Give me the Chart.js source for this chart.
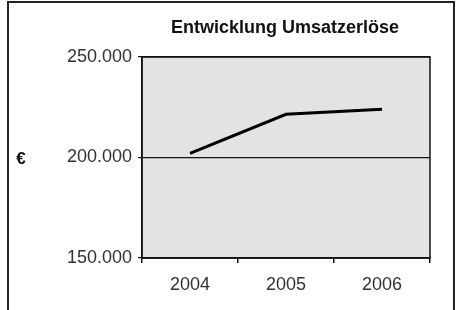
<!DOCTYPE html>
<html>
<head>
<meta charset="utf-8">
<script src="https://cdn.jsdelivr.net/npm/chart.js@4"></script>
<style>
  html, body { margin: 0; padding: 0; background: #fff; }
  #wrap { position: relative; width: 457px; height: 310px; }
  #frame {
    position: absolute; left: 7px; top: 1px; width: 448px; height: 330px;
    border: 2px solid #222; box-sizing: border-box;
  }
  canvas { position: absolute; left: 0; top: 0; }
</style>
</head>
<body>
<div id="wrap">
  <div id="frame"></div>
  <canvas id="chart" width="457" height="310"></canvas>
</div>
<script>
// ===== Daten =====
const years = ["2004", "2005", "2006"];
const umsatz = [202000, 221500, 224000];
const yTicks = [150000, 200000, 250000];

const chartTitle = "Entwicklung Umsatzerlöse";
const unitLabel = "€";

const FONT = "'Liberation Sans Narrow', 'Arial Narrow', 'Liberation Sans', sans-serif";

// Hintergrund + Rahmen der Zeichenfläche, Titel und Einheit
const plotDecor = {
  id: "plotDecor",
  beforeDraw(chart) {
    const { ctx, chartArea: a } = chart;
    ctx.save();
    ctx.fillStyle = "#e3e3e3";
    ctx.fillRect(a.left, a.top, a.right - a.left, a.bottom - a.top);
    ctx.restore();
  },
  afterDraw(chart) {
    const { ctx, chartArea: a } = chart;
    ctx.save();
    ctx.strokeStyle = "#111";
    ctx.lineWidth = 1.5;
    ctx.strokeRect(a.left, a.top, a.right - a.left, a.bottom - a.top);

    ctx.fillStyle = "#111";
    ctx.textAlign = "center";
    ctx.textBaseline = "alphabetic";
    ctx.font = "bold 18px " + FONT;
    ctx.fillText(chartTitle, (a.left + a.right) / 2 - 1, 33);

    ctx.font = "bold 17px " + FONT;
    ctx.fillText(unitLabel, 21, 164);
    ctx.restore();
  }
};

new Chart(document.getElementById("chart").getContext("2d"), {
  type: "line",
  data: {
    labels: years,
    datasets: [{
      data: umsatz,
      borderColor: "#000",
      borderWidth: 3,
      pointRadius: 0,
      tension: 0
    }]
  },
  options: {
    responsive: false,
    animation: false,
    layout: { padding: { left: 0, right: 27, top: 57, bottom: 0 } },
    plugins: {
      legend: { display: false },
      tooltip: { enabled: false }
    },
    scales: {
      x: {
        offset: true,
        grid: {
          offset: true,
          drawOnChartArea: false,
          drawTicks: true,
          tickLength: 5,
          color: "#111",
          lineWidth: 1.5
        },
        border: { color: "#111", width: 1.5 },
        ticks: {
          color: "#333",
          padding: 11,
          font: { family: FONT, size: 18 }
        },
        afterFit(s) { s.height = 52; }
      },
      y: {
        min: 150000,
        max: 250000,
        afterBuildTicks(s) { s.ticks = yTicks.map(v => ({ value: v })); },
        grid: {
          color: "#111",
          lineWidth: 1.2,
          tickLength: 4
        },
        border: { color: "#111", width: 1.5 },
        ticks: {
          color: "#333",
          padding: 6,
          font: { family: FONT, size: 18 },
          callback: v => v.toLocaleString("de-DE")
        },
        afterFit(s) { s.width = 142; }
      }
    }
  },
  plugins: [plotDecor]
});
</script>
</body>
</html>
